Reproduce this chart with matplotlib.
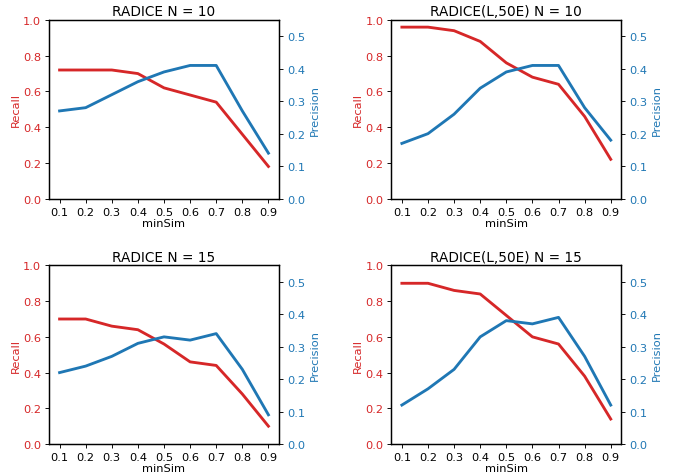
import matplotlib
matplotlib.use('Agg')
import matplotlib.pyplot as plt

min_sim = [0.1, 0.2, 0.3, 0.4, 0.5, 0.6, 0.7, 0.8, 0.9]

titles = ['RADICE N = 10', 'RADICE(L,50E) N = 10',
          'RADICE N = 15', 'RADICE(L,50E) N = 15']

recall_radice_10 = [0.72, 0.72, 0.72, 0.70, 0.62, 0.58, 0.54, 0.36, 0.18]
precision_radice_10 = [0.27, 0.28, 0.32, 0.36, 0.39, 0.41, 0.41, 0.27, 0.14]

recall_l50e_10 = [0.96, 0.96, 0.94, 0.88, 0.76, 0.68, 0.64, 0.46, 0.22]
precision_l50e_10 = [0.17, 0.20, 0.26, 0.34, 0.39, 0.41, 0.41, 0.28, 0.18]

recall_radice_15 = [0.70, 0.70, 0.66, 0.64, 0.56, 0.46, 0.44, 0.28, 0.10]
precision_radice_15 = [0.22, 0.24, 0.27, 0.31, 0.33, 0.32, 0.34, 0.23, 0.09]

recall_l50e_15 = [0.90, 0.90, 0.86, 0.84, 0.72, 0.60, 0.56, 0.38, 0.14]
precision_l50e_15 = [0.12, 0.17, 0.23, 0.33, 0.38, 0.37, 0.39, 0.27, 0.12]

recalls = [recall_radice_10, recall_l50e_10, recall_radice_15, recall_l50e_15]
precisions = [precision_radice_10, precision_l50e_10, precision_radice_15, precision_l50e_15]

# original figure was bigger, scaled down to 673x477
scale = 0.82
fig, axes = plt.subplots(2, 2, figsize=(6.73 / scale, 4.77 / scale), dpi=100 * scale)
plt.subplots_adjust(left=0.073, right=0.923, top=0.956, bottom=0.067,
                    wspace=0.49, hspace=0.374)

for ax, title, rec, prec in zip(axes.flat, titles, recalls, precisions):
    ax.plot(min_sim, rec, color='tab:red', linewidth=2.5)
    ax.set_ylim(0, 1)
    ax.set_ylabel('Recall', color='tab:red', labelpad=2)
    ax.tick_params(axis='y', labelcolor='tab:red')
    ax.set_xlabel('minSim', labelpad=1)
    ax.set_xticks(min_sim)
    ax.set_title(title, pad=4)
    for s in ax.spines.values():
        s.set_linewidth(1.1)

    ax2 = ax.twinx()
    ax2.plot(min_sim, prec, color='tab:blue', linewidth=2.5)
    ax2.set_ylim(0, 0.55)
    ax2.set_ylabel('Precision', color='tab:blue')
    ax2.tick_params(axis='y', labelcolor='tab:blue')
    for s in ax2.spines.values():
        s.set_linewidth(1.1)

plt.savefig('out.png', dpi=100 * scale)
